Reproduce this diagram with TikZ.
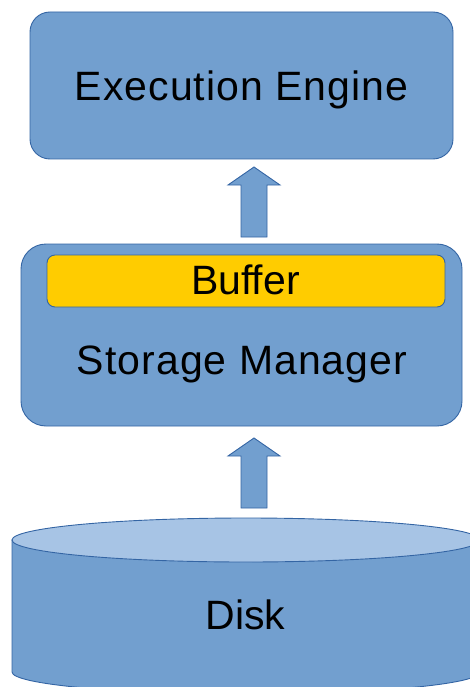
\documentclass[tikz,border=0pt]{standalone}
\usepackage{fontspec}
\setmainfont{Liberation Sans}
\newfontfamily\spacedfont[LetterSpace=2.5]{Liberation Sans}
\definecolor{boxfill}{HTML}{729FCF}
\definecolor{boxline}{HTML}{3465A4}
\definecolor{diskTop}{HTML}{A7C4E5}
\definecolor{bufferfill}{HTML}{FFCC00}
\begin{document}
\begin{tikzpicture}[x=1pt,y=-1pt,
  box/.style={draw=boxline, fill=boxfill, line width=0.9pt, rectangle, inner sep=0pt},
  bufbox/.style={draw=boxline, fill=bufferfill, line width=0.9pt, rectangle, inner sep=0pt, rounded corners=8pt},
  lbl/.style={inner sep=0pt, anchor=base, font=\fontsize{41}{48}\selectfont, text=black},
  widelbl/.style={lbl, font=\spacedfont\fontsize{41}{48}\selectfont},
  blockarrow/.style={draw=boxline, fill=boxfill, line width=0.9pt, line join=miter}]
\useasboundingbox (0,0) rectangle (469,687);
% Execution Engine
\node[box, rounded corners=20pt, minimum width=423pt, minimum height=147pt] (ee) at (241.5,85.5) {};
\node[widelbl] (eet) at (241.7,100.7) {Execution Engine};
% Storage Manager
\node[box, rounded corners=25pt, minimum width=441pt, minimum height=182pt] (sm) at (241.5,335) {};
\node[bufbox, minimum width=398pt, minimum height=52pt] (buf) at (246,281) {};
\node[lbl] (buft) at (245.5,294) {Buffer};
\node[widelbl] (smt) at (242,374) {Storage Manager};
% Disk cylinder
\draw[box] (12,540) -- (12,672) arc[start angle=180, end angle=0, x radius=234, y radius=22] -- (480,540) -- cycle;
\draw[draw=boxline, fill=diskTop, line width=0.9pt] (246,540) ellipse[x radius=234, y radius=22];
\node[lbl] (diskt) at (245.4,629) {Disk};
% block arrows
\draw[blockarrow, shift={(254,167)}] (0,0) -- (26,18) -- (13,18) -- (13,70) -- (-13,70) -- (-13,18) -- (-26,18) -- cycle;
\draw[blockarrow, shift={(254,438)}] (0,0) -- (26,18) -- (13,18) -- (13,70) -- (-13,70) -- (-13,18) -- (-26,18) -- cycle;
\end{tikzpicture}
\end{document}
